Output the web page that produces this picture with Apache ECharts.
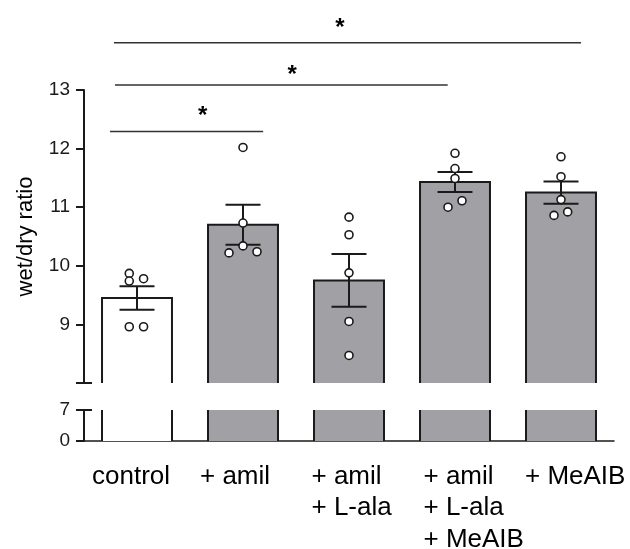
<!DOCTYPE html>
<html>
<head>
<meta charset="utf-8">
<title>wet/dry ratio</title>
<script src="https://cdn.jsdelivr.net/npm/echarts@6/dist/echarts.min.js"></script>
<style>
  html, body { margin: 0; padding: 0; background: #fff; }
  #chart { width: 630px; height: 549px; }
</style>
</head>
<body>
<div id="chart"></div>
<script>
// groups
const categories = ["control", "+ amil", "+ amil\n+ L-ala", "+ amil\n+ L-ala\n+ MeAIB", "+ MeAIB"];
// bar = mean, whisker = SEM
const means = [9.45, 10.70, 9.75, 11.43, 11.25];
const sems = [0.20, 0.34, 0.45, 0.17, 0.19];
// single values of each group
const pointValues = [
  [9.87, 9.74, 9.78, 8.96, 8.96],
  [12.02, 10.73, 10.34, 10.22, 10.24],
  [10.83, 10.53, 9.88, 9.05, 8.47],
  [11.92, 11.66, 11.49, 11.00, 11.11],
  [11.86, 11.52, 11.13, 10.86, 10.92]
];
// sideways spread of the dots (in groups)
const pointJitter = [
  [-0.073, -0.073, 0.062, -0.073, 0.062],
  [0, 0, 0, -0.132, 0.132],
  [0, 0, 0, 0, 0],
  [0, 0, 0, -0.066, 0.066],
  [0, 0, 0, -0.066, 0.063]
];
// broken y axis: upper and lower part
const upperMin = 8, upperMax = 13;
const upperTicks = [9, 10, 11, 12, 13];
const lowerMin = 0, lowerMax = 7;
// significance brackets: start, end, height; stars: x, y
const sigFrom = [-0.217, -0.208, -0.255];
const sigTo = [4.189, 2.931, 1.19];
const sigLevel = [13.805, 13.085, 12.29];
const starX = [1.915, 1.465, 0.62];
const starY = [14.145, 13.34, 12.63];
const sigText = ["*", "*", "*"];

const ink = "#1a1a1a";
const barGray = "#a1a0a5";
const font = "'Liberation Sans', Arial, Helvetica, sans-serif";
// left edge of each x label relative to its tick (px)
const labelShift = [-45, -43, -37.5, -31.5, -36];

const chart = echarts.init(document.getElementById("chart"));

function barFill(i) {
  return i === 0 ? "#ffffff" : barGray;
}

function renderUpperBar(params, api) {
  const i = api.value(0);
  const top = api.coord([i, api.value(1)]);
  const base = api.coord([i, upperMin]);
  const half = api.size([1, 0])[0] * 0.33;
  return {
    type: "group",
    children: [
      { type: "rect", shape: { x: top[0] - half, y: top[1], width: half * 2, height: base[1] - top[1] },
        style: { fill: barFill(i) } },
      { type: "polyline",
        shape: { points: [[top[0] - half, base[1]], [top[0] - half, top[1]], [top[0] + half, top[1]], [top[0] + half, base[1]]] },
        style: { stroke: ink, lineWidth: 2, fill: "none" } }
    ]
  };
}

function renderLowerBar(params, api) {
  const i = api.value(0);
  const top = api.coord([i, api.value(1)]);
  const base = api.coord([i, lowerMin]);
  const half = api.size([1, 0])[0] * 0.33;
  return {
    type: "group",
    children: [
      { type: "rect", shape: { x: top[0] - half, y: top[1], width: half * 2, height: base[1] - top[1] },
        style: { fill: barFill(i) } },
      { type: "line", shape: { x1: top[0] - half, y1: top[1], x2: top[0] - half, y2: base[1] },
        style: { stroke: ink, lineWidth: 2 } },
      { type: "line", shape: { x1: top[0] + half, y1: top[1], x2: top[0] + half, y2: base[1] },
        style: { stroke: ink, lineWidth: 2 } }
    ]
  };
}

function renderErrorBar(params, api) {
  const i = api.value(0);
  const lo = api.coord([i, api.value(1)]);
  const hi = api.coord([i, api.value(2)]);
  const cap = api.size([1, 0])[0] * 0.165;
  const st = { stroke: ink, lineWidth: 2 };
  return {
    type: "group",
    children: [
      { type: "line", shape: { x1: lo[0], y1: lo[1], x2: hi[0], y2: hi[1] }, style: st },
      { type: "line", shape: { x1: lo[0] - cap, y1: lo[1], x2: lo[0] + cap, y2: lo[1] }, style: st },
      { type: "line", shape: { x1: hi[0] - cap, y1: hi[1], x2: hi[0] + cap, y2: hi[1] }, style: st }
    ]
  };
}

function renderSig(params, api) {
  const a = api.coord([api.value(0), api.value(2)]);
  const b = api.coord([api.value(1), api.value(2)]);
  const s = api.coord([api.value(3), api.value(4)]);
  return {
    type: "group",
    children: [
      { type: "line", shape: { x1: a[0], y1: a[1], x2: b[0], y2: b[1] }, style: { stroke: "#333", lineWidth: 1.5 } },
      { type: "text", x: s[0], y: s[1] + 5,
        style: { text: sigText[params.dataIndex], fill: "#000", font: "bold 24px " + font, align: "center", verticalAlign: "middle" } }
    ]
  };
}

function renderBreak(params, api) {
  const p = api.coord([api.value(0), api.value(1)]);
  return { type: "line", shape: { x1: p[0] - 8, y1: p[1], x2: p[0] + 8, y2: p[1] }, style: { stroke: ink, lineWidth: 2 } };
}

const points = [];
pointValues.forEach((vals, g) => vals.forEach((v, k) => points.push([g + pointJitter[g][k], v])));

const catItems = categories.map((c, i) => {
  const pad = Math.max(0, 2 * (52 + labelShift[i]));
  return { value: c, textStyle: { padding: [0, 0, 0, pad] } };
});

chart.setOption({
  animation: false,
  textStyle: { fontFamily: font },
  grid: [
    { left: 84, top: 90, width: 530, height: 293, outerBoundsMode: "none", containLabel: false },
    { left: 84, top: 410, width: 530, height: 31, outerBoundsMode: "none", containLabel: false }
  ],
  xAxis: [
    { gridIndex: 0, type: "value", min: -0.5, max: 4.5, show: false },
    {
      gridIndex: 1, type: "category", data: catItems,
      axisLine: { onZero: false, lineStyle: { color: ink, width: 1.5 } },
      axisTick: { alignWithLabel: true, length: 9, lineStyle: { color: ink, width: 1.5 } },
      axisLabel: {
        interval: 0, margin: 20, color: "#000",
        formatter: (v) => v.split("\n").map((s) => "{l|" + s + "}").join("\n"),
        rich: { l: { width: 104, align: "left", fontSize: 26, lineHeight: 31.5, fontFamily: font, color: "#000" } }
      }
    },
    { gridIndex: 1, type: "value", min: -0.5, max: 4.5, show: false }
  ],
  yAxis: [
    {
      gridIndex: 0, type: "value", min: upperMin, max: upperMax, interval: 1,
      name: "wet/dry ratio", nameLocation: "middle", nameGap: 47,
      nameTextStyle: { fontSize: 22, color: "#000", fontFamily: font },
      axisLine: { show: true, onZero: false, lineStyle: { color: ink, width: 2 } },
      axisTick: { show: true, length: 8, lineStyle: { color: ink, width: 2 } },
      axisLabel: { fontSize: 19, margin: 14, color: ink, formatter: (v) => (upperTicks.includes(v) ? String(v) : "") },
      splitLine: { show: false }
    },
    {
      gridIndex: 1, type: "value", min: lowerMin, max: lowerMax, interval: 7,
      axisLine: { show: true, onZero: false, lineStyle: { color: ink, width: 2 } },
      axisTick: { show: true, length: 8, lineStyle: { color: ink, width: 2 } },
      axisLabel: { fontSize: 19, margin: 14, color: ink },
      splitLine: { show: false }
    }
  ],
  series: [
    { type: "custom", name: "bars", xAxisIndex: 0, yAxisIndex: 0, renderItem: renderUpperBar,
      encode: { x: 0, y: 1 }, data: means.map((m, i) => [i, m]), z: 1 },
    { type: "custom", name: "bars low", xAxisIndex: 2, yAxisIndex: 1, renderItem: renderLowerBar,
      encode: { x: 0, y: 1 }, data: means.map((m, i) => [i, Math.min(m, lowerMax)]), z: 1 },
    { type: "custom", name: "sem", xAxisIndex: 0, yAxisIndex: 0, renderItem: renderErrorBar,
      encode: { x: 0, y: [1, 2] }, data: means.map((m, i) => [i, m - sems[i], m + sems[i]]), z: 2 },
    { type: "scatter", name: "values", xAxisIndex: 0, yAxisIndex: 0, data: points,
      symbol: "circle", symbolSize: 8,
      itemStyle: { color: "#ffffff", borderColor: ink, borderWidth: 1.6, opacity: 1 }, z: 3 },
    { type: "custom", name: "sig", xAxisIndex: 0, yAxisIndex: 0, renderItem: renderSig,
      encode: { x: [0, 1, 3], y: [2, 4] },
      data: sigFrom.map((f, k) => [f, sigTo[k], sigLevel[k], starX[k], starY[k]]), z: 4 },
    { type: "custom", name: "break up", xAxisIndex: 0, yAxisIndex: 0, renderItem: renderBreak,
      data: [[-0.5, upperMin]], z: 5 },
    { type: "custom", name: "break low", xAxisIndex: 2, yAxisIndex: 1, renderItem: renderBreak,
      data: [[-0.5, lowerMax]], z: 5 }
  ]
});
</script>
</body>
</html>
